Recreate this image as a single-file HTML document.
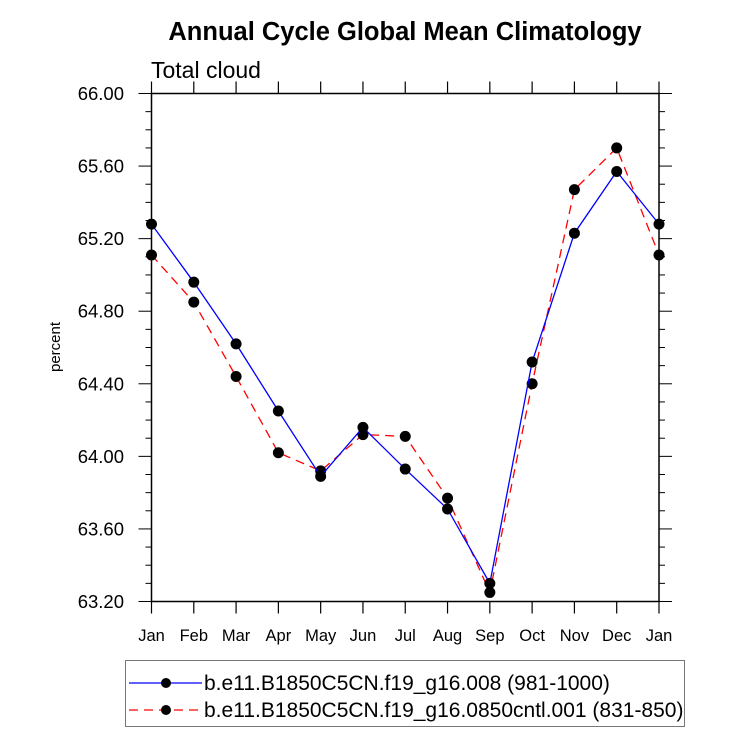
<!DOCTYPE html>
<html><head><meta charset="utf-8"><style>
body{margin:0;background:#fff;}
svg text{font-family:"Liberation Sans",Arial,sans-serif;}
</style></head><body>
<svg id="chart" width="733" height="748" viewBox="0 0 733 748">
<text x="405" y="40" font-size="25.5" font-weight="bold" text-anchor="middle">Annual Cycle Global Mean Climatology</text>
<text x="151" y="78" font-size="23">Total cloud</text>
<text transform="translate(60,347) rotate(-90)" font-size="15" text-anchor="middle">percent</text>
<g id="axes"></g>
<g id="series"></g>
<g>
<rect x="125.5" y="660.5" width="559" height="66" fill="none" stroke="#777" stroke-width="1"/>
<g>
<line x1="129" y1="683" x2="202" y2="683" stroke="#0000ff" stroke-width="1.3"/>
<circle cx="166" cy="683" r="5" fill="#000"/>
<text x="204" y="690" font-size="21">b.e11.B1850C5CN.f19_g16.008 (981-1000)</text>
</g>
<g>
<line x1="129" y1="710" x2="202" y2="710" stroke="#ff0000" stroke-width="1.3" stroke-dasharray="9,6"/>
<circle cx="166" cy="710" r="5" fill="#000"/>
<text x="204" y="717" font-size="21">b.e11.B1850C5CN.f19_g16.0850cntl.001 (831-850)</text>
</g>
</g>
</svg>
<script>
const months=["Jan","Feb","Mar","Apr","May","Jun","Jul","Aug","Sep","Oct","Nov","Dec","Jan"];
const seriesA=[65.28,64.96,64.62,64.25,63.89,64.16,63.93,63.71,63.30,64.52,65.23,65.57,65.28];
const seriesB=[65.11,64.85,64.44,64.02,63.92,64.12,64.11,63.77,63.25,64.40,65.47,65.70,65.11];
const yTicks=["63.20","63.60","64.00","64.40","64.80","65.20","65.60","66.00"];
const yMin=63.2,yMax=66.0;
const L=151.5,R=659,T=93.5,B=601.5;
const NS="http://www.w3.org/2000/svg";
function xs(i){return L+(R-L)*i/(months.length-1);}
function ys(v){return B-(v-yMin)/(yMax-yMin)*(B-T);}
function mk(tag,attrs,parent){const e=document.createElementNS(NS,tag);for(const k in attrs)e.setAttribute(k,attrs[k]);parent.appendChild(e);return e;}
const ax=document.getElementById('axes');
const frame=mk('rect',{x:L,y:T,width:R-L,height:B-T,fill:'none',stroke:'#000','stroke-width':1.5},ax);


for(let i=0;i<months.length;i++){
  const x=xs(i);
  mk('line',{x1:x,y1:B,x2:x,y2:B+12,stroke:'#000','stroke-width':1.2},ax);
  mk('line',{x1:x,y1:T,x2:x,y2:T-12,stroke:'#000','stroke-width':1.2},ax);
  const t=mk('text',{x:x,y:641,'font-size':16.5,'text-anchor':'middle'},ax);
  t.textContent=months[i];
  
  
}
for(let v=yMin;v<=yMax+1e-6;v+=0.1){
  const y=ys(v);
  const major=Math.abs((v-yMin)/0.4-Math.round((v-yMin)/0.4))<1e-3;
  const len=major?13:6;
  mk('line',{x1:L,y1:y,x2:L-len,y2:y,stroke:'#000','stroke-width':1},ax);
  mk('line',{x1:R,y1:y,x2:R+len,y2:y,stroke:'#000','stroke-width':1},ax);
}
yTicks.forEach(function(s){
  const t=mk('text',{x:124,y:ys(parseFloat(s))+6.5,'font-size':18.5,'text-anchor':'end'},ax);
  t.textContent=s;
  
  
});
const sg=document.getElementById('series');
function draw(vals,color,dash,name){
  const g=mk('g',{},sg);
  
  
  const pts=vals.map(function(v,i){return xs(i)+','+ys(v);}).join(' ');
  const a={points:pts,fill:'none',stroke:color,'stroke-width':1.3};
  if(dash)a['stroke-dasharray']=dash;
  const pl=mk('polyline',a,g);
  
  
  vals.forEach(function(v,i){
    const c=mk('circle',{cx:xs(i),cy:ys(v),r:5.5,fill:'#000'},g);
    
    
  });
}
draw(seriesB,'#ff0000','9,6','series-cntl');
draw(seriesA,'#0000ff',null,'series-control');
</script>
</body></html>
